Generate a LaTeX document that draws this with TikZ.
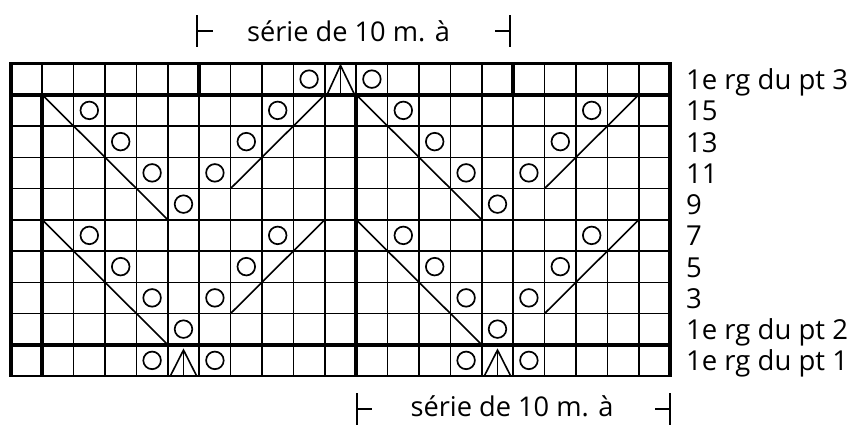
\documentclass[tikz,border=0pt]{standalone}
\usepackage{fontspec}
\setmainfont{Open Sans}
\begin{document}
\begin{tikzpicture}[x=1pt,y=-1pt,
  gridline/.style={line width=1.5pt,black},
  thickline/.style={line width=3.9pt,black},
  edgeline/.style={line width=2.6pt,black},
  symline/.style={line width=1.6pt,black},
  yo/.style={line width=1.7pt,black},
  lbl/.style={inner sep=0pt,anchor=base west,font=\fontsize{27.5}{32}\selectfont},
  ttl/.style={inner sep=0pt,anchor=base,font=\fontsize{27.2}{32}\selectfont},
  brk/.style={line width=1.5pt,black}]
\useasboundingbox (0,0) rectangle (854,426);

\begin{scope}[shift={(10.8pt,-63.5pt)},x=31.4pt,y=-31.25pt]
  % thin grid
  \foreach \k in {0,...,21} \draw[gridline] (\k,0) -- (\k,10);
  \foreach \j in {0,...,10} \draw[gridline] (0,\j) -- (21,\j);
  % thick lines
  \draw[thickline] (0,1) -- (21,1);
  \draw[thickline] (0,9) -- (21,9);
  \draw[thickline] (6,0) -- (6,1);
  \draw[thickline] (16,0) -- (16,1);
  \draw[thickline] (1,1) -- (1,10);
  \draw[thickline] (11,1) -- (11,10);
  \draw[thickline] (0,-0.04) -- (0,10.04);
  \draw[thickline] (21,-0.04) -- (21,10.04);
  \draw[edgeline] (0,0) -- (21,0);
  \draw[edgeline] (0,10) -- (21,10);
  % diagonals
  \foreach \s in {0,10} {
    \draw[symline] (1+\s,1) -- (5+\s,5);
    \draw[symline] (1+\s,5) -- (5+\s,9);
    \draw[symline] (10+\s,1) -- (7+\s,4);
    \draw[symline] (10+\s,5) -- (7+\s,8);
  }
  % yarn overs
  \foreach \c/\r in {9/0,11/0,
     2/1,8/1,12/1,18/1, 3/2,7/2,13/2,17/2, 4/3,6/3,14/3,16/3, 5/4,15/4,
     2/5,8/5,12/5,18/5, 3/6,7/6,13/6,17/6, 4/7,6/7,14/7,16/7, 5/8,15/8,
     4/9,6/9,14/9,16/9}
    \draw[yo] (\c+0.5,\r+0.5) circle[radius=8.8pt];
  % central double decreases
  \draw[symline] (10.07,1) -- (10.5,0.06) -- (10.95,1);
  \draw[symline] (10.5,0.06) -- (10.5,1);
  \foreach \c in {5,15} {
    \draw[symline] (\c+0.08,10) -- (\c+0.5,9.17) -- (\c+0.92,10);
    \draw[symline] (\c+0.5,9.17) -- (\c+0.5,10);
  }
\end{scope}

% row labels
\foreach \t [count=\i from 0] in {1e rg du pt 3,15,13,11,9,7,5,3,1e rg du pt 2,1e rg du pt 1}
  \node[lbl] (row\i) at (686,{63.5+31.25*(\i+0.5)+10.5}) {\t};

% repeat brackets
\node[ttl] (toptitle) at (348.5,41.7) {série de 10 m. à};
\draw[brk] (197,15) -- (197,47);
\draw[brk] (197,31) -- (213,31);
\draw[brk] (510,15) -- (510,47);
\draw[brk] (495,31) -- (510,31);

\node[ttl] (bottitle) at (512,416.5) {série de 10 m. à};
\draw[brk] (357,393) -- (357,425);
\draw[brk] (357,409) -- (372,409);
\draw[brk] (670,393) -- (670,425);
\draw[brk] (655,409) -- (670,409);
\end{tikzpicture}
\end{document}
